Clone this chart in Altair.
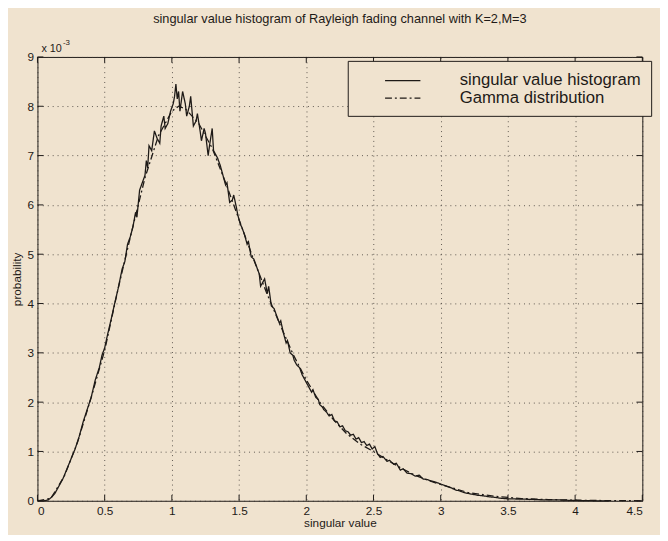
import altair as alt
import pandas as pd

# ---- data (probability in units of 1e-3) ----
hist_x = [0.00, 0.05, 0.08, 0.10, 0.13, 0.16, 0.19, 0.22, 0.25, 0.28, 0.31, 0.34, 0.37, 0.40, 0.43, 0.46,
          0.48, 0.50, 0.52, 0.55, 0.57, 0.60, 0.63, 0.65, 0.67, 0.69, 0.71, 0.73, 0.74, 0.76, 0.78, 0.80,
          0.81, 0.82, 0.83, 0.85, 0.87, 0.89, 0.91, 0.92, 0.94, 0.95, 0.97, 0.99, 1.01, 1.02, 1.03, 1.04,
          1.05, 1.06, 1.07, 1.08, 1.10, 1.11, 1.13, 1.14, 1.15, 1.16, 1.18, 1.19, 1.21, 1.22, 1.24, 1.25,
          1.27, 1.28, 1.30, 1.31, 1.33, 1.34, 1.36, 1.38, 1.40, 1.41, 1.43, 1.45, 1.46, 1.48, 1.49, 1.51,
          1.52, 1.54, 1.56, 1.57, 1.59, 1.61, 1.63, 1.65, 1.66, 1.68, 1.69, 1.71, 1.72, 1.74, 1.76, 1.78,
          1.80, 1.81, 1.83, 1.85, 1.86, 1.88, 1.90, 1.91, 1.93, 1.95, 1.97, 1.99, 2.00, 2.02, 2.04, 2.05,
          2.07, 2.09, 2.10, 2.12, 2.13, 2.15, 2.17, 2.19, 2.21, 2.23, 2.25, 2.27, 2.29, 2.31, 2.33, 2.35,
          2.37, 2.39, 2.41, 2.43, 2.45, 2.47, 2.49, 2.51, 2.53, 2.55, 2.57, 2.60, 2.62, 2.65, 2.67, 2.70,
          2.72, 2.75, 2.78, 2.81, 2.84, 2.87, 2.90, 2.93, 2.96, 2.99, 3.02, 3.05, 3.08, 3.11, 3.14, 3.17,
          3.20, 3.24, 3.28, 3.32, 3.36, 3.40, 3.45, 3.50, 3.58, 3.66, 3.75, 3.85, 3.95, 4.05, 4.15, 4.25]
hist_y = [0.00, 0.00, 0.02, 0.06, 0.15, 0.30, 0.45, 0.65, 0.85, 1.05, 1.30, 1.60, 1.85, 2.10, 2.45, 2.70,
          2.95, 3.10, 3.35, 3.70, 3.95, 4.30, 4.70, 4.85, 5.20, 5.35, 5.55, 5.85, 5.75, 6.30, 6.45, 6.60,
          6.90, 6.75, 7.20, 7.10, 7.50, 7.35, 7.25, 7.60, 7.80, 7.55, 7.65, 7.90, 8.05, 8.20, 8.45, 8.15,
          8.30, 7.90, 8.10, 8.30, 8.05, 7.80, 8.00, 8.20, 7.90, 7.60, 7.70, 7.85, 7.50, 7.30, 7.55, 7.45,
          7.00, 7.20, 7.55, 7.10, 7.00, 6.95, 6.80, 6.60, 6.40, 6.45, 6.05, 6.10, 6.20, 5.95, 5.80, 5.60,
          5.55, 5.40, 5.20, 5.25, 4.95, 4.90, 4.75, 4.60, 4.35, 4.45, 4.50, 4.20, 4.35, 3.95, 3.90, 3.75,
          3.60, 3.65, 3.40, 3.20, 3.25, 3.00, 2.95, 2.85, 2.75, 2.70, 2.55, 2.45, 2.40, 2.30, 2.20, 2.25,
          2.10, 2.05, 1.95, 1.90, 1.85, 1.80, 1.72, 1.75, 1.62, 1.60, 1.50, 1.52, 1.42, 1.40, 1.33, 1.35,
          1.25, 1.28, 1.18, 1.20, 1.12, 1.15, 1.05, 1.10, 0.95, 0.88, 0.90, 0.80, 0.82, 0.74, 0.76, 0.62,
          0.65, 0.56, 0.55, 0.50, 0.52, 0.44, 0.43, 0.40, 0.38, 0.35, 0.32, 0.29, 0.26, 0.22, 0.20, 0.17,
          0.15, 0.13, 0.11, 0.10, 0.08, 0.07, 0.05, 0.04, 0.035, 0.03, 0.02, 0.02, 0.01, 0.005, 0.00, 0.00]

gamma_x = [0.00, 0.10, 0.20, 0.30, 0.40, 0.50, 0.60, 0.70, 0.80, 0.90, 1.00, 1.05, 1.10, 1.20, 1.30, 1.40,
           1.50, 1.60, 1.70, 1.80, 1.90, 2.00, 2.10, 2.20, 2.30, 2.40, 2.50, 2.60, 2.70, 2.80, 2.90, 3.00,
           3.20, 3.40, 3.60, 3.80, 4.00, 4.20, 4.50]
gamma_y = [0.00, 0.05, 0.50, 1.20, 2.10, 3.05, 4.30, 5.45, 6.55, 7.40, 7.90, 8.00, 7.95, 7.65, 7.15, 6.45,
           5.70, 4.95, 4.25, 3.60, 2.98, 2.45, 2.00, 1.65, 1.36, 1.15, 1.00, 0.83, 0.67, 0.53, 0.42, 0.33,
           0.17, 0.09, 0.045, 0.025, 0.012, 0.005, 0.00]

series_names = ["singular value histogram", "Gamma distribution"]
x_ticks = [0, 0.5, 1, 1.5, 2, 2.5, 3, 3.5, 4, 4.5]
y_ticks = [0, 1, 2, 3, 4, 5, 6, 7, 8, 9]

title_text = "singular value histogram of Rayleigh fading channel with K=2,M=3"
x_title = "singular value"
y_title = "probability"
exp_base = "x 10"
exp_power = "-3"

# ---- build tables ----
df = pd.concat([
    pd.DataFrame({"x": hist_x, "y": hist_y, "series": series_names[0], "order": range(len(hist_x))}),
    pd.DataFrame({"x": gamma_x, "y": gamma_y, "series": series_names[1], "order": range(len(gamma_x))}),
])
xt = pd.DataFrame({"v": x_ticks})
yt = pd.DataFrame({"v": y_ticks})

W, H = 616, 452
BG = "#f0e3cf"
INK = "#1e1a17"
FONT = "Liberation Sans"

xs = alt.Scale(domain=[0, 4.5], nice=False, zero=False)
ys = alt.Scale(domain=[0, 9], nice=False)

lines = alt.Chart(df).mark_line(strokeWidth=1.3, color=INK).encode(
    x=alt.X("x:Q", scale=xs, title=x_title,
            axis=alt.Axis(values=x_ticks, format="~g", grid=True, ticks=False, labelPadding=5)),
    y=alt.Y("y:Q", scale=ys, title=y_title,
            axis=alt.Axis(values=y_ticks, format="d", grid=True, ticks=False, labelPadding=4)),
    strokeDash=alt.StrokeDash("series:N",
        scale=alt.Scale(domain=series_names, range=[[1, 0], [7, 3, 2, 3]]),
        legend=alt.Legend(orient="none", legendX=W - 300, legendY=4, title=None,
                          symbolType="M-2,0H2", symbolSize=324, symbolStrokeWidth=1.3,
                          symbolStrokeColor=INK, labelFontSize=17, labelFont=FONT,
                          labelColor=INK, labelOffset=48, symbolOffset=36,
                          fillColor=BG, strokeColor=INK, padding=10, rowPadding=0,
                          labelLimit=400)),
    order="order:Q",
)

tick_len = 6
bx = alt.Chart(xt).mark_rule(color=INK, strokeWidth=1).encode(
    x=alt.X("v:Q", scale=xs), y=alt.value(H), y2=alt.value(H - tick_len))
tx = alt.Chart(xt).mark_rule(color=INK, strokeWidth=1).encode(
    x=alt.X("v:Q", scale=xs), y=alt.value(0), y2=alt.value(tick_len))
ly = alt.Chart(yt).mark_rule(color=INK, strokeWidth=1).encode(
    y=alt.Y("v:Q", scale=ys), x=alt.value(0), x2=alt.value(tick_len))
ry = alt.Chart(yt).mark_rule(color=INK, strokeWidth=1).encode(
    y=alt.Y("v:Q", scale=ys), x=alt.value(W), x2=alt.value(W - tick_len))

exp1 = alt.Chart(pd.DataFrame({"t": [exp_base]})).mark_text(
    align="left", baseline="bottom", font=FONT, fontSize=11, color=INK).encode(
    x=alt.value(4), y=alt.value(-3), text="t:N")
exp2 = alt.Chart(pd.DataFrame({"t": [exp_power]})).mark_text(
    align="left", baseline="bottom", font=FONT, fontSize=8, color=INK).encode(
    x=alt.value(26), y=alt.value(-10), text="t:N")

chart = alt.layer(lines, bx, tx, ly, ry, exp1, exp2).properties(
    width=W, height=H,
    title=alt.Title(title_text, font=FONT, fontSize=13, fontWeight="normal", color=INK, offset=14),
    padding={"left": 2, "right": 8, "top": 0, "bottom": 2},
    background=BG,
).configure_view(
    stroke=INK, strokeWidth=1, fill=BG
).configure_axis(
    domain=False, gridColor="#3a3430", gridDash=[1, 4], gridOpacity=0.8, gridWidth=1,
    labelFont=FONT, labelFontSize=12, labelColor=INK,
    titleFont=FONT, titleFontSize=12, titleFontWeight="normal", titleColor=INK,
).configure_axisY(titlePadding=4).configure_axisX(titlePadding=1)

chart.save("out.html", embed_options={"renderer": "svg", "actions": False})
